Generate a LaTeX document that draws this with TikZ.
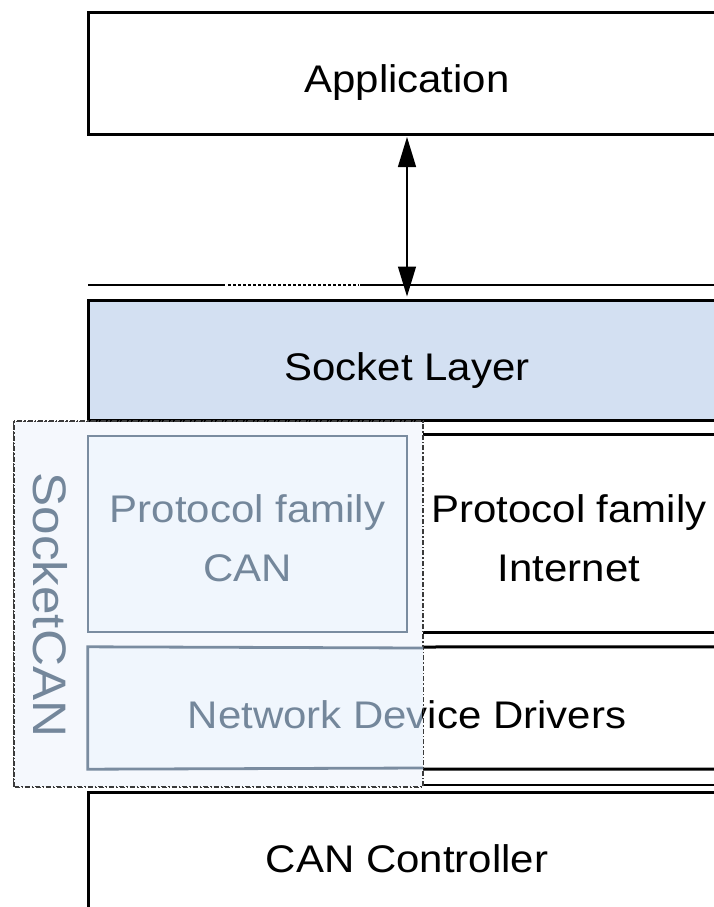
\documentclass[tikz,border=0pt]{standalone}
\usepackage{fontspec}
\setmainfont[FakeStretch=1.09]{Liberation Sans}
\usetikzlibrary{arrows.meta}
\definecolor{sockblue}{HTML}{D3E0F2}
\definecolor{canbg}{HTML}{F5F8FD}
\definecolor{canbox}{HTML}{F0F6FD}
\definecolor{cangray}{HTML}{74879B}
\definecolor{canline}{HTML}{7A8CA0}
\definecolor{dashgray}{HTML}{3A3A3A}
\begin{document}
\begin{tikzpicture}[x=1pt,y=-1pt,
  layer/.style={draw=black, line width=3pt, minimum width=638pt, inner sep=0pt},
  hollow/.style={inner sep=0pt},
  lbl/.style={inner sep=0pt, font=\fontsize{38.5}{40}\selectfont, text=black, anchor=base},
  glbl/.style={lbl, text=cangray},
  thinline/.style={line width=1.5pt},
  blackedge/.style={line width=3pt, draw=black},
  grayedge/.style={line width=2.8pt, draw=canline},
  conn/.style={line width=1.3pt, {Triangle[length=30pt,width=18pt]}-{Triangle[length=30pt,width=18pt]}, shorten <=1.5pt, shorten >=2pt},
  region/.style={draw=dashgray, line width=1.1pt, fill=canbg, dash pattern=on 5pt off 2pt on 1.5pt off 2pt}
]
\useasboundingbox (0,0) rectangle (714,907);

% separation lines
\draw[thinline] (88,285) -- (225,285);
\draw[line width=1.8pt, dash pattern=on 2.5pt off 2.5pt] (228,285) -- (359,285);
\draw[thinline] (360,285) -- (726,285);
\draw[thinline] (88,785) -- (726,785);

% layers
\node[layer, minimum height=121pt] (app) at (407,73.5) {};
\node[layer, fill=sockblue, minimum height=120pt] (sock) at (407,360) {};
\node[layer, minimum height=170pt] (canc) at (407,877) {};

\node[lbl] at ([yshift=-18.8pt]app.center) {Application};
\node[lbl] at ([yshift=-20pt]sock.center) {Socket Layer};
\node[lbl] (cct) at (407,872) {CAN Controller};

% Internet protocol family (right part)
\node[hollow, minimum width=292pt, minimum height=197pt] (inet) at (569,533.5) {};
\draw[blackedge] (inet.north west) -- (inet.north east) -- (inet.south east) -- (inet.south west);
\node[lbl] at (569,522) {Protocol family};
\node[lbl] at (569,581) {Internet};

% Network device drivers (full box)
\node[hollow, minimum width=638pt, minimum height=122pt] (netw) at (407,708) {};
\draw[blackedge] (423,647) -- (netw.north east) -- (netw.south east) -- (423,769);

% SocketCAN region
\node[region, minimum width=409pt, minimum height=365pt, inner sep=0pt] (scan) at (218.5,604) {};

% Protocol family CAN
\node[grayedge, fill=canbox, minimum width=319pt, minimum height=196pt, inner sep=0pt] (pcan) at (247.5,534) {};
\node[glbl] at (247.5,522) {Protocol family};
\node[glbl] at (247.5,581) {CAN};

% Network device drivers, left part inside SocketCAN
\draw[grayedge, fill=canbox] (423,648) -- (netw.north west) -- (netw.south west) -- (423,768);

\begin{scope}
  \clip (0,640) rectangle (422.5,780);
  \node[glbl] at (407,728) {Network Device Drivers};
\end{scope}
\begin{scope}
  \clip (422.5,640) rectangle (714,780);
  \node[lbl] at (407,728) {Network Device Drivers};
\end{scope}

% redraw SocketCAN border on top
\draw[draw=dashgray, line width=1.1pt, dash pattern=on 5pt off 2pt on 1.5pt off 2pt] (scan.north west) rectangle (scan.south east);

\node[glbl, font=\fontsize{47}{50}\selectfont, rotate=-90] (sclbl) at (33,605) {SocketCAN};

% connector
\draw[conn] (app.south) -- (sock.north);
\end{tikzpicture}
\end{document}
